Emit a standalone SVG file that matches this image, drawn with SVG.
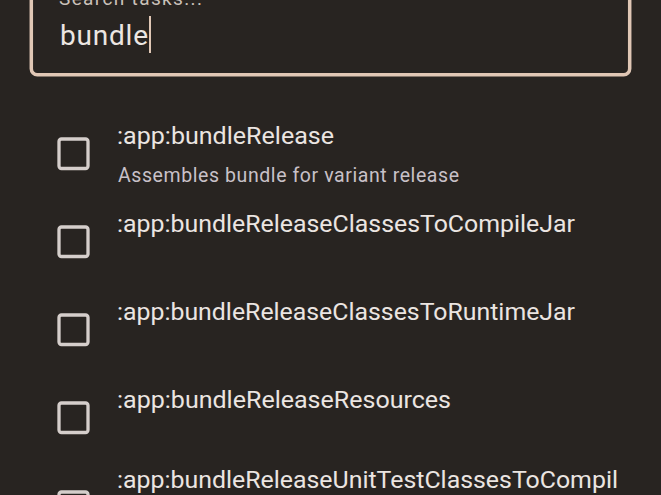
<svg xmlns="http://www.w3.org/2000/svg" width="661" height="495" viewBox="0 0 661 495">
<style>
.title{font-family:Roboto,"Liberation Sans",sans-serif;font-size:23px;fill:#ebe5e1}
.sub{font-family:Roboto,"Liberation Sans",sans-serif;font-size:19.5px;fill:#c8c1c8}
.cb{fill:none;stroke:#d5cecb;stroke-width:3.3}
</style>
<rect x="0" y="0" width="661" height="495" fill="#282421"/>
<g id="search">
<rect x="31.3" y="-40" width="598.4" height="114.7" rx="6" fill="none" stroke="#e0c7b5" stroke-width="3.5"/>
<text x="59" y="5" font-family="Roboto,'Liberation Sans',sans-serif" font-size="19" fill="#cbc2ba" textLength="143" lengthAdjust="spacing">Search tasks...</text>
<text x="60" y="45" font-family="Roboto,'Liberation Sans',sans-serif" font-size="28" fill="#ece6e2" textLength="88" lengthAdjust="spacing">bundle</text>
<rect x="149" y="16" width="2" height="37" fill="#e0c7b5"/>
</g>
<g id="row1">
<rect class="cb" x="59" y="139" width="29" height="29.5" rx="2.5"/>
<text class="title" x="117" y="144.3" textLength="217" lengthAdjust="spacingAndGlyphs">:app:bundleRelease</text>
<text class="sub" x="118" y="182" textLength="341" lengthAdjust="spacing">Assembles bundle for variant release</text>
</g>
<g id="row2">
<rect class="cb" x="59" y="227" width="29" height="29.5" rx="2.5"/>
<text class="title" x="117" y="232.3" textLength="458" lengthAdjust="spacingAndGlyphs">:app:bundleReleaseClassesToCompileJar</text>
</g>
<g id="row3">
<rect class="cb" x="59" y="315" width="29" height="29.5" rx="2.5"/>
<text class="title" x="117" y="320.3" textLength="458" lengthAdjust="spacingAndGlyphs">:app:bundleReleaseClassesToRuntimeJar</text>
</g>
<g id="row4">
<rect class="cb" x="59" y="403" width="29" height="29.5" rx="2.5"/>
<text class="title" x="117" y="408.3" textLength="334" lengthAdjust="spacingAndGlyphs">:app:bundleReleaseResources</text>
</g>
<g id="row5">
<rect class="cb" x="59" y="492" width="29" height="29.5" rx="2.5"/>
<text class="title" x="117" y="487.7" textLength="501" lengthAdjust="spacingAndGlyphs">:app:bundleReleaseUnitTestClassesToCompil</text>
</g>
</svg>
